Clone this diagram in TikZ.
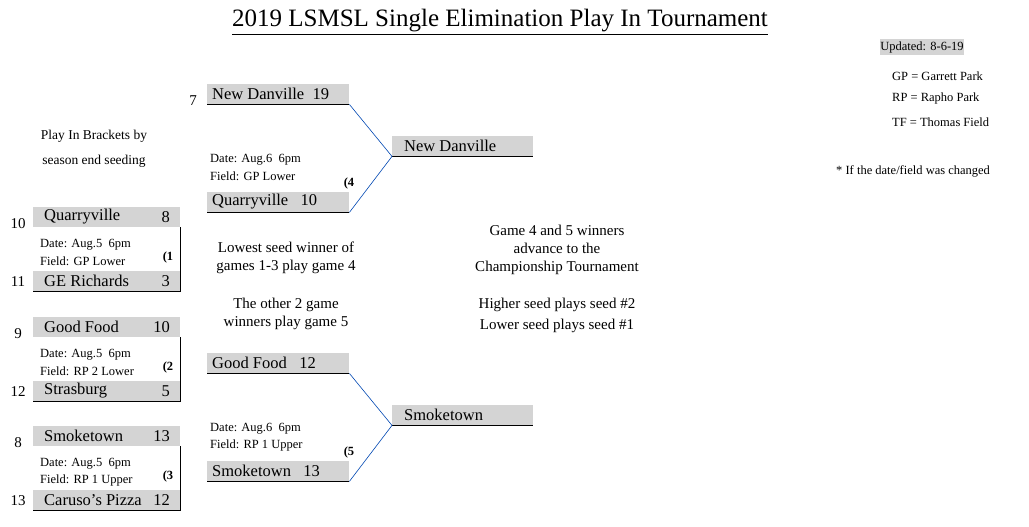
\documentclass[tikz,border=0pt]{standalone}
\usepackage{fontspec}
\setmainfont{Liberation Serif}
\begin{document}
\begin{tikzpicture}[x=1pt,y=-1pt,
 team/.style={fill=black!17,draw=none,minimum height=20pt,anchor=north west,inner sep=0pt},
 tl/.style={anchor=west,font=\fontsize{16.5}{16}\selectfont,inner sep=0pt},
 sm/.style={anchor=west,font=\fontsize{12.5}{14}\selectfont,inner sep=0pt,align=left},
 seed/.style={font=\fontsize{15}{15}\selectfont,inner sep=0pt},
 gn/.style={font=\bfseries\fontsize{12.5}{12}\selectfont,inner sep=0pt},
 ctr/.style={font=\fontsize{15}{18}\selectfont,align=center,inner sep=0pt},
 thick line/.style={line width=1.4pt},
 blue line/.style={draw=blue!60!cyan!70!black,line width=0.6pt}]
\useasboundingbox (0,0) rectangle (1029,527);
\node[font=\fontsize{25}{25}\selectfont,inner sep=0pt] (title) at (500,22) {\underline{2019 LSMSL Single Elimination Play In Tournament}};
\node[fill=black!17,minimum width=72pt,minimum height=16pt,inner sep=0pt,font=\fontsize{12.5}{12}\selectfont] (upd) at (922,47) {Updated: 8-6-19};
\node[sm,anchor=west] (gp) at (892,76) {GP = Garrett Park};
\node[sm,anchor=west] (rp) at (892,98) {RP = Rapho Park};
\node[sm,anchor=west] (tf) at (892,122) {TF = Thomas Field};
\node[sm,anchor=west] (chg) at (836,171) {* If the date/field was changed};
\node[ctr,font=\fontsize{13.5}{25}\selectfont] (pib) at (94,149) {Play In Brackets by\\season end seeding};
\foreach \n/\ty/\a/\as/\b/\bs/\sa/\sb/\g/\fd in {1/207/Quarryville/8/GE Richards/3/10/11/1/GP Lower,2/317/Good Food/10/Strasburg/5/9/12/2/RP 2 Lower,3/426/Smoketown/13/Caruso's Pizza/12/8/13/3/RP 1 Upper}{
 \node[team,minimum width=147pt] (t\n) at (33,\ty) {};
 \node[tl] (ta\n) at (44,\ty+10) {\a};
 \node[tl,anchor=east] (tas\n) at (170,\ty+10) {\as};
 \node[team,minimum width=147pt] (b\n) at (33,\ty+64) {};
 \node[tl] (tb\n) at (44,\ty+74) {\b};
 \node[tl,anchor=east] (tbs\n) at (170,\ty+74) {\bs};
 \draw[thick line] (t\n.south east) -- (b\n.south east) -- (b\n.south west);
 \node[seed] (sa\n) at (18,\ty+17) {\sa};
 \node[seed] (sb\n) at (18,\ty+75) {\sb};
 \node[sm] (d\n) at (40,\ty+38) {Date: Aug.5\ \ 6pm};
 \node[sm] (f\n) at (40,\ty+54) {Field: \fd};
 \node[gn] (g\n) at (168,\ty+50) {(\g};
}
\foreach \n/\ty/\a/\b/\wy/\w/\fd in {4/84/New Danville\ \ 19/Quarryville\ \ \ 10/136/New Danville/GP Lower,5/353/Good Food\ \ \ 12/Smoketown\ \ \ 13/405/Smoketown/RP 1 Upper}{
 \node[team,minimum width=142pt] (u\n) at (207,\ty) {};
 \node[tl] at (212,\ty+10) {\a};
 \node[team,minimum width=142pt] (v\n) at (207,\ty+108) {};
 \node[tl] at (212,\ty+118) {\b};
 \node[team,minimum width=141pt] (w\n) at (392,\wy) {};
 \node[tl] at (404,\wy+10) {\w};
 \draw[thick line] (u\n.south west) -- (u\n.south east);
 \draw[thick line] (v\n.south west) -- (v\n.south east);
 \draw[thick line] (w\n.south west) -- (w\n.south east);
 \draw[blue line] (u\n.south east) -- (w\n.south west) -- (v\n.south east);
 \node[sm] at (210,\ty+76) {Date: Aug.6\ \ 6pm};
 \node[sm] at (210,\ty+92) {Field: \fd};
 \node[gn] at (349,\ty+99) {(\n};
}
\node[seed] (s7) at (193,101) {7};
\node[ctr] (n1) at (286,258) {Lowest seed winner of\\games 1-3 play game 4};
\node[ctr] (n2) at (286,314) {The other 2 game\\winners play game 5};
\node[ctr] (n3) at (557,250) {Game 4 and 5 winners\\advance to the\\Championship Tournament};
\node[ctr,font=\fontsize{15}{21}\selectfont] (n4) at (557,315) {Higher seed plays seed \#2\\Lower seed plays seed \#1};
\end{tikzpicture}
\end{document}
